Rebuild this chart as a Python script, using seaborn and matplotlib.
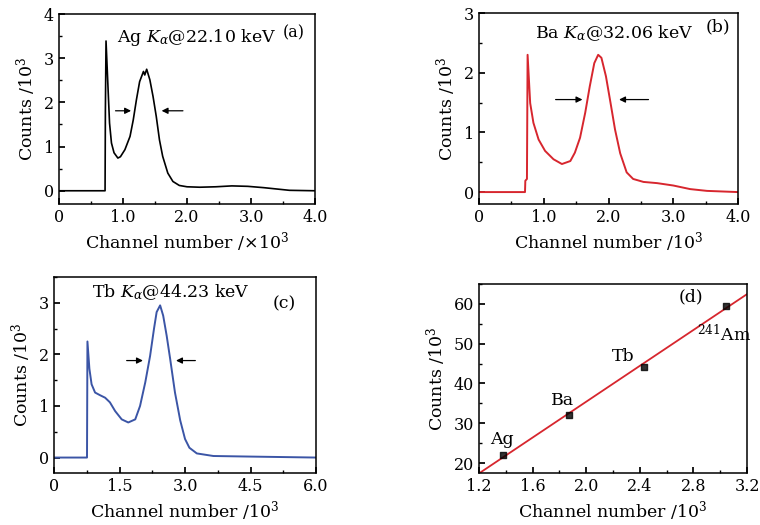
import numpy as np
import matplotlib
matplotlib.use("Agg")
import matplotlib.pyplot as plt
import seaborn as sns
from matplotlib.ticker import FixedLocator, MultipleLocator

# --- spectra (channel /10^3, counts /10^3) ---
ag_channel = [0, 0.72, 0.725, 0.735, 0.77, 0.79, 0.82, 0.86, 0.92, 0.96, 1.03, 1.11, 1.16,
              1.21, 1.26, 1.32, 1.34, 1.37, 1.42, 1.47, 1.52, 1.57, 1.62, 1.70, 1.78, 1.88,
              2.0, 2.2, 2.45, 2.7, 2.95, 3.2, 3.4, 3.6, 4.0]
ag_counts = [0, 0, 1.8, 3.39, 2.2, 1.53, 1.08, 0.86, 0.74, 0.77, 0.93, 1.23, 1.6,
             2.06, 2.47, 2.70, 2.62, 2.75, 2.51, 2.13, 1.68, 1.15, 0.78, 0.40, 0.21, 0.12,
             0.09, 0.08, 0.09, 0.11, 0.10, 0.07, 0.04, 0.01, 0.0]

ba_channel = [0, 0.71, 0.715, 0.74, 0.75, 0.79, 0.84, 0.92, 1.02, 1.15, 1.28, 1.41, 1.48,
              1.56, 1.64, 1.71, 1.78, 1.84, 1.89, 1.96, 2.03, 2.10, 2.18, 2.28, 2.38, 2.54,
              2.75, 3.0, 3.26, 3.52, 4.0]
ba_counts = [0, 0, 0.19, 0.22, 2.30, 1.49, 1.16, 0.88, 0.69, 0.55, 0.47, 0.52, 0.66,
             0.91, 1.33, 1.77, 2.16, 2.30, 2.25, 1.94, 1.50, 1.05, 0.65, 0.33, 0.22, 0.17,
             0.15, 0.11, 0.05, 0.02, 0]

tb_channel = [0, 0.755, 0.765, 0.81, 0.86, 0.94, 1.05, 1.17, 1.28, 1.40, 1.55, 1.70, 1.86,
              1.97, 2.09, 2.20, 2.29, 2.35, 2.43, 2.50, 2.58, 2.66, 2.77, 2.89, 3.0, 3.1,
              3.27, 3.65, 4.4, 5.2, 6.0]
tb_counts = [0, 0, 2.25, 1.72, 1.42, 1.26, 1.21, 1.16, 1.07, 0.90, 0.74, 0.68, 0.74,
             1.00, 1.46, 1.97, 2.50, 2.82, 2.95, 2.75, 2.36, 1.91, 1.26, 0.72, 0.36, 0.19,
             0.08, 0.03, 0.02, 0.01, 0]

# --- calibration points for panel (d) ---
calib_names = ["Ag", "Ba", "Tb", "$^{241}$Am"]
calib_channel = [1.38, 1.87, 2.43, 3.04]
calib_energy = [22.10, 32.06, 44.23, 59.54]

RED = "#d7262e"
BLUE = "#3b55a6"

sns.set_theme(style="ticks")
plt.rcParams.update({
    "font.family": ["DejaVu Serif"],
    "mathtext.fontset": "dejavuserif",
    "xtick.direction": "in",
    "ytick.direction": "in",
    "xtick.major.size": 4,
    "ytick.major.size": 4,
    "xtick.minor.size": 2.5,
    "ytick.minor.size": 2.5,
    "xtick.labelsize": 11.5,
    "ytick.labelsize": 11.5,
    "axes.labelsize": 12.5,
    "axes.linewidth": 1.1,
    "axes.edgecolor": "black",
    "text.color": "black",
    "axes.labelcolor": "black",
    "xtick.color": "black",
    "ytick.color": "black",
})

fig = plt.figure(figsize=(7.6, 5.25), dpi=100)
ax_a = fig.add_axes([0.0776, 0.6114, 0.3369, 0.3619])
ax_b = fig.add_axes([0.6303, 0.6114, 0.3408, 0.3638])
ax_c = fig.add_axes([0.0711, 0.0990, 0.3447, 0.3734])
ax_d = fig.add_axes([0.6303, 0.0990, 0.3526, 0.3600])


def arrows(ax, y, left, right):
    kw = dict(arrowstyle="-|>", color="black", lw=0.9, mutation_scale=9)
    ax.annotate("", xy=(left[1], y), xytext=(left[0], y), arrowprops=kw)
    ax.annotate("", xy=(right[1], y), xytext=(right[0], y), arrowprops=kw)


def style(ax, xticks, xlabels, ylabel, xlabel):
    ax.xaxis.set_major_locator(FixedLocator(xticks))
    ax.set_xticklabels(xlabels)
    ax.set_xlabel(xlabel, labelpad=3)
    ax.set_ylabel(ylabel, labelpad=4)
    ax.tick_params(top=False, right=False, which="both")


# (a) Ag
sns.lineplot(x=ag_channel, y=ag_counts, ax=ax_a, color="black", lw=1.2, estimator=None)
ax_a.set_xlim(0, 4)
ax_a.set_ylim(-0.3, 4)
ax_a.yaxis.set_major_locator(MultipleLocator(1))
ax_a.yaxis.set_minor_locator(MultipleLocator(0.5))
ax_a.xaxis.set_minor_locator(MultipleLocator(0.5))
style(ax_a, [0, 1, 2, 3, 4], ["0", "1.0", "2.0", "3.0", "4.0"],
      "Counts /10$^3$", "Channel number /\u00d710$^3$")
ax_a.text(0.9, 3.46, "Ag $K_\\alpha$@22.10 keV", fontsize=12.5, va="center")
ax_a.text(3.5, 3.57, "(a)", fontsize=11.5, va="center")
arrows(ax_a, 1.81, (0.84, 1.17), (1.98, 1.56))

# (b) Ba
sns.lineplot(x=ba_channel, y=ba_counts, ax=ax_b, color=RED, lw=1.4, estimator=None)
ax_b.set_xlim(0, 4)
ax_b.set_ylim(-0.2, 3)
ax_b.yaxis.set_major_locator(MultipleLocator(1))
ax_b.yaxis.set_minor_locator(MultipleLocator(0.5))
ax_b.xaxis.set_minor_locator(MultipleLocator(0.5))
style(ax_b, [0, 1, 2, 3, 4], ["0", "1.0", "2.0", "3.0", "4.0"],
      "Counts /10$^3$", "Channel number /10$^3$")
ax_b.text(0.86, 2.67, "Ba $K_\\alpha$@32.06 keV", fontsize=12.5, va="center")
ax_b.text(3.5, 2.77, "(b)", fontsize=12.5, va="center")
arrows(ax_b, 1.55, (1.14, 1.64), (2.66, 2.12))

# (c) Tb
sns.lineplot(x=tb_channel, y=tb_counts, ax=ax_c, color=BLUE, lw=1.4, estimator=None)
ax_c.set_xlim(0, 6)
ax_c.set_ylim(-0.3, 3.5)
ax_c.yaxis.set_major_locator(MultipleLocator(1))
ax_c.yaxis.set_minor_locator(MultipleLocator(0.5))
ax_c.xaxis.set_minor_locator(MultipleLocator(0.75))
style(ax_c, [0, 1.5, 3, 4.5, 6], ["0", "1.5", "3.0", "4.5", "6.0"],
      "Counts /10$^3$", "Channel number /10$^3$")
ax_c.text(0.87, 3.2, "Tb $K_\\alpha$@44.23 keV", fontsize=12.5, va="center")
ax_c.text(5.0, 2.98, "(c)", fontsize=12.5, va="center")
arrows(ax_c, 1.88, (1.6, 2.1), (3.3, 2.73))

# (d) calibration
ax_d.set_xlim(1.2, 3.2)
ax_d.set_ylim(17.5, 65)
sns.regplot(x=calib_channel, y=calib_energy, ax=ax_d, ci=None, truncate=False,
            marker="s", scatter_kws=dict(color="black", s=14, zorder=3),
            line_kws=dict(color=RED, lw=1.3))
ax_d.set_xlim(1.2, 3.2)
ax_d.set_ylim(17.5, 65)
ax_d.yaxis.set_major_locator(MultipleLocator(10))
ax_d.yaxis.set_minor_locator(MultipleLocator(5))
ax_d.xaxis.set_minor_locator(MultipleLocator(0.2))
style(ax_d, [1.2, 1.6, 2.0, 2.4, 2.8, 3.2], ["1.2", "1.6", "2.0", "2.4", "2.8", "3.2"],
      "Counts /10$^3$", "Channel number /10$^3$")
label_pos = [(1.28, 25.8), (1.74, 35.8), (2.19, 46.7), (2.83, 52.2)]
for name, (lx, ly) in zip(calib_names, label_pos):
    ax_d.text(lx, ly, name, fontsize=12.5, va="center")
ax_d.text(2.69, 61.8, "(d)", fontsize=12.5, va="center")

fig.savefig("out.png", dpi=100)
